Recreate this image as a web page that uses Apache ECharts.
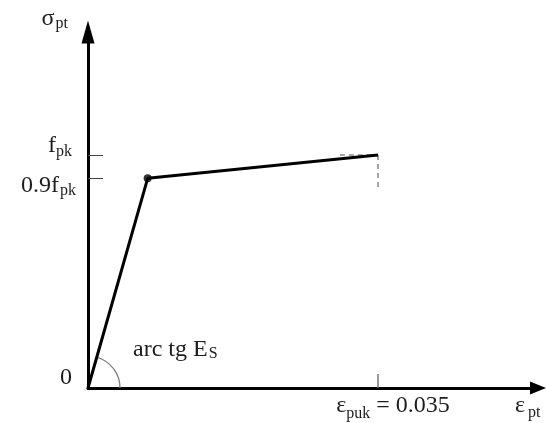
<!DOCTYPE html>
<html>
<head>
<meta charset="utf-8">
<script src="https://cdn.jsdelivr.net/npm/echarts@6/dist/echarts.min.js"></script>
<style>
  html, body { margin: 0; padding: 0; background: #fff; }
  #graph { width: 546px; height: 423px; }
</style>
</head>
<body>
<div id="graph"></div>
<script>
// strain (x) and stress as a fraction of fpk (y)
const strain = [0, 0.0072, 0.035];
const stress = [0, 0.9, 1.0];
const yieldPoint = [0.0072, 0.9];
const yTickValues = [0.9, 1.0];
const yLabelValues = [0, 0.9, 1.0];
const xTickValues = [0.035];
const dropLine = [[0.035, 1.0], [0.035, 0.86]];
const capLine = [[0.0304, 1.0], [0.035, 1.0]];

const FONT = 'Liberation Serif';
const INK = '#1c1c1c';

function txt(size, extra) {
  return Object.assign({fontFamily: FONT, fontSize: size, color: INK}, extra || {});
}

var mychart = echarts.init(document.getElementById('graph'));

mychart.setOption({
  animation: false,
  backgroundColor: '#fff',
  grid: {left: 88, right: 8, top: 32, bottom: 35, outerBoundsMode: 'none'},
  xAxis: {
    type: 'value',
    min: 0,
    max: 0.05431,
    splitLine: {show: false},
    name: '{e|ε}{s|pt}',
    nameLocation: 'end',
    nameGap: -23,
    nameMoveOverlap: false,
    nameTextStyle: {
      align: 'left',
      verticalAlign: 'middle',
      rich: {
        e: txt(24, {padding: [36, 0, 0, 0]}),
        s: txt(16, {padding: [50, 0, 0, 3]})
      }
    },
    axisLine: {
      lineStyle: {color: '#000', width: 3},
      symbol: ['none', 'triangle'],
      symbolSize: [13, 16]
    },
    axisTick: {
      show: true,
      inside: true,
      length: 14,
      customValues: xTickValues,
      lineStyle: {color: '#777', width: 1.5}
    },
    axisLabel: {
      customValues: xTickValues,
      margin: 4,
      formatter: function () {
        return '{e|ε}{s|puk}{n| = 0.035}';
      },
      rich: {
        e: txt(24, {lineHeight: 28, padding: [0, 0, 0, 30]}),
        s: txt(16, {lineHeight: 28, padding: [15, 0, 0, 0]}),
        n: txt(24, {lineHeight: 28})
      }
    }
  },
  yAxis: {
    type: 'value',
    min: 0,
    max: 1.528,
    splitLine: {show: false},
    name: '{g|σ}{s|pt}',
    nameLocation: 'end',
    nameGap: 13,
    nameMoveOverlap: false,
    nameTextStyle: {
      align: 'right',
      verticalAlign: 'middle',
      rich: {
        g: txt(24),
        s: txt(16, {padding: [10, 20, 0, 1]})
      }
    },
    axisLine: {
      lineStyle: {color: '#000', width: 3},
      symbol: ['none', 'triangle'],
      symbolSize: [13, 23]
    },
    axisTick: {
      show: true,
      inside: true,
      length: 15,
      customValues: yTickValues,
      lineStyle: {color: '#444', width: 1}
    },
    axisLabel: {
      customValues: yLabelValues,
      margin: 12,
      formatter: function (v) {
        if (v === 0) return '{zero|0}';
        if (Math.abs(v - 1) < 1e-9) return '{f1|f}{s1|pk}';
        return '{m2|0.9f}{s2|pk}';
      },
      rich: {
        zero: txt(24, {padding: [0, 4, 20, 0]}),
        f1: txt(24, {padding: [0, 0, 18, 0]}),
        s1: txt(16, {padding: [0, 4, 7, 0]}),
        m2: txt(24, {padding: [14, 0, 0, 0]}),
        s2: txt(16, {padding: [25, 0, 0, 1]})
      }
    }
  },
  series: [
    {
      type: 'line',
      data: dropLine,
      symbol: 'none',
      lineStyle: {color: '#888', width: 1.5, type: [5, 4]},
      z: 1
    },
    {
      type: 'line',
      data: capLine,
      symbol: 'none',
      lineStyle: {color: '#888', width: 1.5, type: [5, 4]},
      z: 1
    },
    {
      type: 'line',
      data: strain.map(function (x, i) { return [x, stress[i]]; }),
      symbol: 'none',
      lineStyle: {color: '#000', width: 3},
      z: 3
    },
    {
      type: 'scatter',
      data: [yieldPoint],
      symbolSize: 8,
      itemStyle: {color: '#000'},
      z: 4
    },
    {
      type: 'custom',
      coordinateSystem: 'cartesian2d',
      data: [[strain[0], stress[0]]],
      silent: true,
      z: 2,
      renderItem: function (params, api) {
        var o = api.coord([strain[0], stress[0]]);
        var p = api.coord(yieldPoint);
        var ang = Math.atan2(p[1] - o[1], p[0] - o[0]);
        return {
          type: 'group',
          children: [
            {
              type: 'arc',
              shape: {cx: o[0], cy: o[1], r: 32, startAngle: ang, endAngle: 0, clockwise: true},
              style: {stroke: '#777', lineWidth: 1.2, fill: null}
            },
            {
              type: 'text',
              x: o[0] + 45,
              y: o[1] - 38,
              style: {
                text: '{m|arc tg E}{s|S}',
                align: 'left',
                verticalAlign: 'middle',
                rich: {
                  m: {fontFamily: FONT, fontSize: 24, fill: INK},
                  s: {fontFamily: FONT, fontSize: 16, fill: INK, padding: [8, 0, 0, 1]}
                }
              }
            }
          ]
        };
      }
    }
  ]
});
</script>
</body>
</html>
